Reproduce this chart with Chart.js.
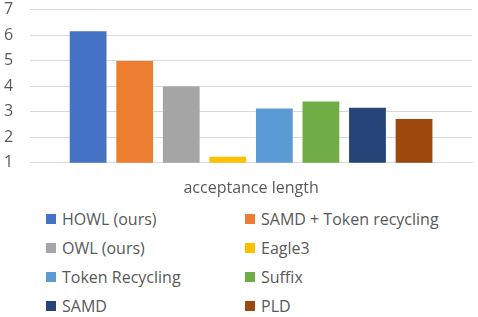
<!DOCTYPE html>
<html>
<head>
<meta charset="utf-8">
<script src="https://cdn.jsdelivr.net/npm/chart.js@4/dist/chart.umd.min.js"></script>
<style>
  html, body { margin: 0; padding: 0; background: #fff; overflow: hidden; }
  #wrap { position: relative; width: 478px; height: 317px; overflow: hidden; }
  #chartBox { position: absolute; left: -16px; top: -17px; width: 494px; height: 215px; }
  #legend { position: absolute; left: 0; top: 209px; width: 478px; font-family: "Open Sans", sans-serif; font-size: 16px; color: #595959; }
  .item { position: absolute; height: 20px; line-height: 20px; white-space: nowrap; }
  .box { position: absolute; left: 0; top: 5px; width: 10px; height: 10px; }
  .txt { position: absolute; left: 16px; top: 0; }
</style>
</head>
<body>
<div id="wrap">
  <div id="chartBox"><canvas id="c"></canvas></div>
  <div id="legend"></div>
</div>
<script>
const categories = ['acceptance length'];
const seriesLabels = ['HOWL (ours)', 'SAMD + Token recycling', 'OWL (ours)', 'Eagle3', 'Token Recycling', 'Suffix', 'SAMD', 'PLD'];
const seriesValues = [6.15, 4.99, 3.99, 1.24, 3.13, 3.4, 3.16, 2.72];
const seriesColors = ['#4472C4', '#ED7D31', '#A5A5A5', '#FFC000', '#5B9BD5', '#70AD47', '#264478', '#9E480E'];
const yTicks = [1, 2, 3, 4, 5, 6, 7];

const datasets = seriesLabels.map((l, i) => ({
  label: l,
  data: [seriesValues[i]],
  backgroundColor: seriesColors[i],
  borderWidth: 0
}));

new Chart(document.getElementById('c'), {
  type: 'bar',
  data: { labels: categories, datasets },
  options: {
    responsive: true,
    maintainAspectRatio: false,
    animation: false,
    layout: { padding: { top: 2, right: 6, left: 3, bottom: 0 } },
    datasets: { bar: { categoryPercentage: 0.843, barPercentage: 0.79 } },
    plugins: { legend: { display: false }, tooltip: { enabled: false } },
    scales: {
      x: {
        grid: { display: false, drawTicks: false, tickLength: 0 },
        border: { display: true, color: '#D9D9D9', width: 1 },
        ticks: { display: false },
        title: { display: true, text: categories[0], color: '#595959', font: { family: 'Open Sans', size: 16 }, padding: { top: 16, bottom: 0 } }
      },
      y: {
        min: yTicks[0], max: yTicks[yTicks.length - 1],
        afterBuildTicks: (s) => { s.ticks = yTicks.map(v => ({ value: v })); },
        grid: { color: '#D9D9D9', lineWidth: 1, drawTicks: false, tickLength: 0 },
        border: { display: false },
        ticks: { color: '#595959', font: { family: 'Open Sans', size: 16 }, padding: 17 }
      }
    }
  }
});

const legend = document.getElementById('legend');
seriesLabels.forEach((l, i) => {
  const col = i % 2, row = Math.floor(i / 2);
  const d = document.createElement('div');
  d.className = 'item';
  d.style.left = (col === 0 ? 46 : 245) + 'px';
  d.style.top = (row * 29) + 'px';
  d.innerHTML = '<span class="box" style="background:' + seriesColors[i] + '"></span><span class="txt"></span>';
  d.querySelector('.txt').textContent = l;
  legend.appendChild(d);
});
</script>
</body>
</html>
